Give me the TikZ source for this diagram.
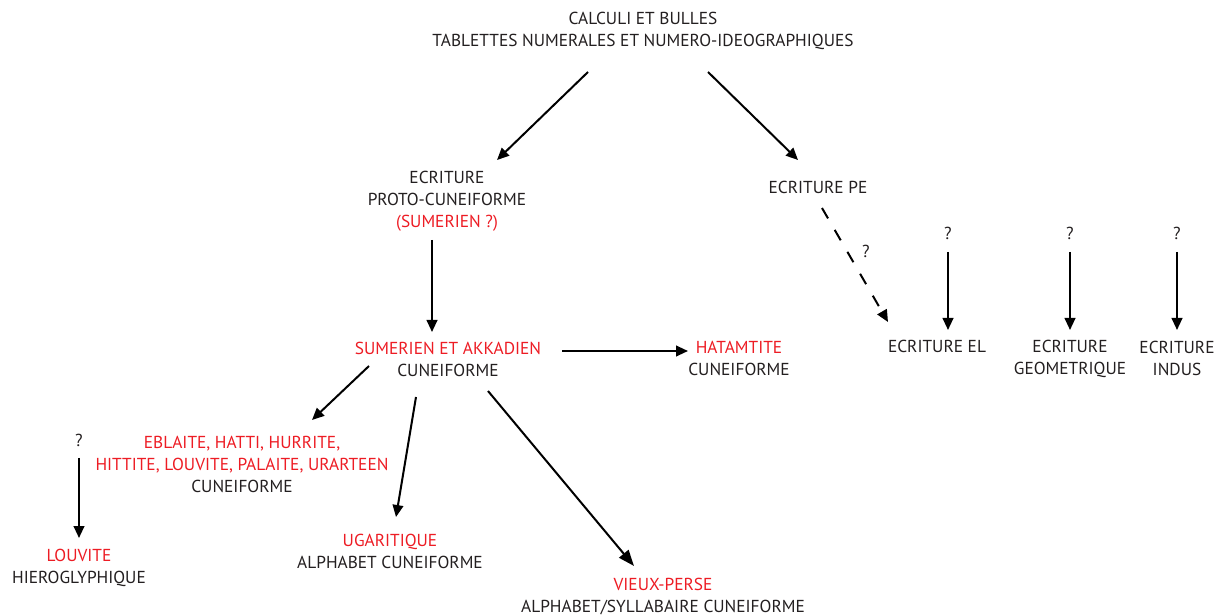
\documentclass[tikz,border=0pt]{standalone}
\usepackage{fontspec}
\setmainfont{PT Sans}
\usepackage{xcolor}
\usepackage{tikz}
\usetikzlibrary{arrows.meta, calc}
\definecolor{ired}{RGB}{237,28,36}
\definecolor{itext}{RGB}{35,31,32}
\tikzstyle{entry} = [align=center, inner sep=0pt, text=itext, font=\fontsize{13pt}{16.5pt}\selectfont]
\tikzstyle{arrow} = [line width=1.5pt, draw=black, -{Triangle[length=9pt, width=8pt]}]
\tikzstyle{bigarrow} = [line width=1.5pt, draw=black, -{Triangle[length=12pt, width=9pt]}]
\tikzstyle{maybe} = [arrow, dash pattern=on 9pt off 10pt]

\begin{document}
\begin{tikzpicture}[x=0.75pt, y=-0.75pt]
    \useasboundingbox (0,0) rectangle (1221,616);
    \node (calculi) [entry] at (643,30.5) {CALCULI ET BULLES\\TABLETTES NUMERALES ET NUMERO-IDEOGRAPHIQUES};
    \node (proto) [entry] at (447,201.5) {ECRITURE\\PROTO-CUNEIFORME\\\textcolor{ired}{(SUMERIEN ?)}};
    \node (sumak) [entry] at (448,359) {\textcolor{ired}{SUMERIEN ET AKKADIEN}\\CUNEIFORME};
    \node (hatam) [entry] at (739,358.5) {\textcolor{ired}{HATAMTITE}\\CUNEIFORME};
    \node (pe) [entry] at (818,187.5) {ECRITURE PE};
    \node (peq) [entry] at (866,251) {?};
    \node (el) [entry] at (937,346.5) {ECRITURE EL};
    \node (elq) [entry] at (948,233.5) {?};
    \node (geo) [entry] at (1070,358.5) {ECRITURE\\GEOMETRIQUE};
    \node (geoq) [entry] at (1070,233.5) {?};
    \node (indus) [entry] at (1177,358.5) {ECRITURE\\INDUS};
    \node (indusq) [entry] at (1177,233.5) {?};
    \node (hittite) [entry] at (242,464.5) {\textcolor{ired}{EBLAITE, HATTI, HURRITE,}\\\textcolor{ired}{HITTITE, LOUVITE, PALAITE, URARTEEN}\\CUNEIFORME};
    \node (louvq) [entry] at (79,440.5) {?};
    \node (louvite) [entry] at (79,567.5) {\textcolor{ired}{LOUVITE}\\HIEROGLYPHIQUE};
    \node (ugar) [entry] at (390,551.5) {\textcolor{ired}{UGARITIQUE}\\ALPHABET CUNEIFORME};
    \node (vieux) [entry] at (663,596.5) {\textcolor{ired}{VIEUX-PERSE}\\ALPHABET/SYLLABAIRE CUNEIFORME};

    \draw [arrow] ($(calculi)+(-55,41.5)$) -- ($(proto)+(50,-41.5)$);
    \draw [arrow] ($(calculi)+(65,41.5)$) -- ($(pe)+(-20,-27.5)$);
    \draw [arrow] ($(proto)+(-15,38.5)$) -- ($(sumak)+(-16,-27)$);
    \draw [arrow] ($(sumak)+(114,-8)$) -- ($(hatam)+(-51,-7.5)$);
    \draw [maybe] ($(pe)+(4,20.5)$) -- ($(el)+(-49,-24.5)$);
    \draw [arrow] ($(elq)+(0,18.5)$) -- ($(el)+(11,-16.5)$);
    \draw [arrow] ($(geoq)+(0,18.5)$) -- ($(geo)+(0,-28.5)$);
    \draw [arrow] ($(indusq)+(0,18.5)$) -- ($(indus)+(0,-28.5)$);
    \draw [arrow] ($(sumak)+(-79,7)$) -- ($(hittite)+(70,-44.5)$);
    \draw [arrow] ($(louvq)+(0,17.5)$) -- ($(louvite)+(0,-29.5)$);
    \draw [arrow] ($(sumak)+(-32,38)$) -- ($(ugar)+(6,-34.5)$);
    \draw [bigarrow] ($(sumak)+(40,32)$) -- ($(vieux)+(-29,-30.5)$);
\end{tikzpicture}
\end{document}
